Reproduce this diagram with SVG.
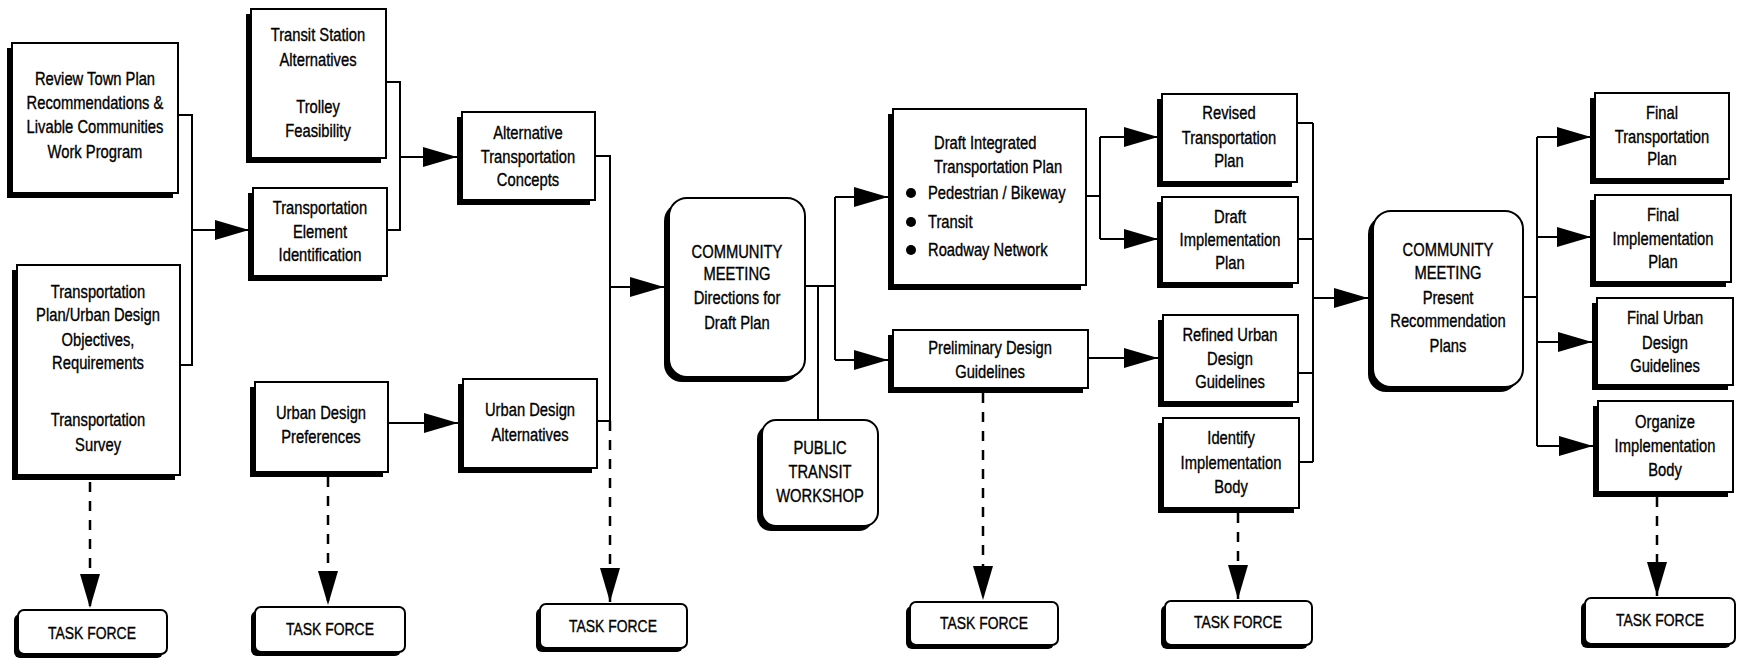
<svg xmlns="http://www.w3.org/2000/svg" width="1741" height="660" viewBox="0 0 1741 660">
<style>
  .sh{fill:#000;}
  .bx{fill:#fff;stroke:#000;stroke-width:2;}
  text{font-family:"Liberation Sans Narrow","Liberation Sans",Arial,sans-serif;font-size:18px;fill:#000;stroke:#000;stroke-width:0.35;text-anchor:middle;transform-box:fill-box;transform-origin:center;transform:scaleX(0.82);}
  .tf{font-size:17px;}
  .lft{text-anchor:start;transform-origin:left center;}
  .ln{fill:none;stroke:#000;stroke-width:2;}
  .ar{fill:none;stroke:#000;stroke-width:2;marker-end:url(#ah);}
  .da{fill:none;stroke:#000;stroke-width:2.5;stroke-dasharray:10,9;marker-end:url(#ah);}
</style>
<defs>
  <marker id="ah" markerUnits="userSpaceOnUse" markerWidth="36" markerHeight="22" refX="34" refY="10" orient="auto" overflow="visible">
    <path d="M0,0 L34,10 L0,20 Z" fill="#000" stroke="none"/>
  </marker>
</defs>
<rect width="1741" height="660" fill="#fff"/>

<g id="connectors">
  <path class="ln" d="M178,115 H192 V365 H180"/>
  <path class="ar" d="M192,230 H249"/>
  <path class="ln" d="M386,82 H400 V230 H387"/>
  <path class="ar" d="M400,157 H457"/>
  <path class="ar" d="M388,423 H458"/>
  <path class="ln" d="M595,156 H610 V421 H597"/>
  <path class="ar" d="M610,287 H664"/>
  <path class="ln" d="M805,286 H835 M835,197 V360 M818,286 V420"/>
  <path class="ar" d="M835,197 H888"/>
  <path class="ar" d="M835,360 H888"/>
  <path class="ln" d="M1086,196 H1100 M1100,137 V239"/>
  <path class="ar" d="M1100,137 H1158"/>
  <path class="ar" d="M1100,239 H1158"/>
  <path class="ar" d="M1088,358 H1158"/>
  <path class="ln" d="M1297,123 H1313 M1298,239 H1313 M1298,373 H1313 M1299,462 H1313 M1313,123 V462"/>
  <path class="ar" d="M1313,298 H1368"/>
  <path class="ln" d="M1523,297 H1537 M1537,137 V446"/>
  <path class="ar" d="M1537,137 H1591"/>
  <path class="ar" d="M1537,237 H1591"/>
  <path class="ar" d="M1537,342 H1592"/>
  <path class="ar" d="M1537,446 H1593"/>
  <path class="da" d="M90,482 V608"/>
  <path class="da" d="M328,477 V605"/>
  <path class="da" d="M610,421 V602"/>
  <path class="da" d="M983,393 V600"/>
  <path class="da" d="M1238,513 V599"/>
  <path class="da" d="M1657,497 V596"/>
</g>

<g id="n_review">
  <rect class="sh" x="7" y="48" width="166" height="150"/>
  <rect class="bx" x="12" y="43" width="166" height="150"/>
  <text x="95" y="85">Review Town Plan</text>
  <text x="95" y="109">Recommendations &amp;</text>
  <text x="95" y="133">Livable Communities</text>
  <text x="95" y="158">Work Program</text>
</g>
<g id="n_tpud">
  <rect class="sh" x="12" y="270" width="163" height="210"/>
  <rect class="bx" x="17" y="265" width="163" height="210"/>
  <text x="98" y="298">Transportation</text>
  <text x="98" y="321">Plan/Urban Design</text>
  <text x="98" y="346">Objectives,</text>
  <text x="98" y="369">Requirements</text>
  <text x="98" y="426">Transportation</text>
  <text x="98" y="451">Survey</text>
</g>
<g id="n_transit">
  <rect class="sh" x="246" y="14" width="135" height="149"/>
  <rect class="bx" x="251" y="9" width="135" height="149"/>
  <text x="318" y="41">Transit Station</text>
  <text x="318" y="66">Alternatives</text>
  <text x="318" y="113">Trolley</text>
  <text x="318" y="137">Feasibility</text>
</g>
<g id="n_tei">
  <rect class="sh" x="248" y="193" width="134" height="88"/>
  <rect class="bx" x="253" y="188" width="134" height="88"/>
  <text x="320" y="214">Transportation</text>
  <text x="320" y="238">Element</text>
  <text x="320" y="261">Identification</text>
</g>
<g id="n_udp">
  <rect class="sh" x="250" y="387" width="133" height="90"/>
  <rect class="bx" x="255" y="382" width="133" height="90"/>
  <text x="321" y="419">Urban Design</text>
  <text x="321" y="443">Preferences</text>
</g>
<g id="n_atc">
  <rect class="sh" x="457" y="117" width="133" height="88"/>
  <rect class="bx" x="462" y="112" width="133" height="88"/>
  <text x="528" y="139">Alternative</text>
  <text x="528" y="163">Transportation</text>
  <text x="528" y="186">Concepts</text>
</g>
<g id="n_uda">
  <rect class="sh" x="458" y="384" width="134" height="89"/>
  <rect class="bx" x="463" y="379" width="134" height="89"/>
  <text x="530" y="416">Urban Design</text>
  <text x="530" y="441">Alternatives</text>
</g>
<g id="n_cm1">
  <rect class="sh" x="664" y="203" width="136" height="179" rx="18"/>
  <rect class="bx" x="669" y="198" width="136" height="179" rx="18"/>
  <text x="737" y="258">COMMUNITY</text>
  <text x="737" y="280">MEETING</text>
  <text x="737" y="304">Directions for</text>
  <text x="737" y="329">Draft Plan</text>
</g>
<g id="n_ptw">
  <rect class="sh" x="757" y="425" width="116" height="106" rx="14"/>
  <rect class="bx" x="762" y="420" width="116" height="106" rx="14"/>
  <text x="820" y="454">PUBLIC</text>
  <text x="820" y="478">TRANSIT</text>
  <text x="820" y="502">WORKSHOP</text>
</g>
<g id="n_dit">
  <rect class="sh" x="888" y="114" width="193" height="176"/>
  <rect class="bx" x="893" y="109" width="193" height="176"/>
  <text class="lft" x="934" y="149">Draft Integrated</text>
  <text class="lft" x="934" y="173">Transportation Plan</text>
  <circle cx="911" cy="193" r="5"/>
  <circle cx="911" cy="222" r="5"/>
  <circle cx="911" cy="250" r="5"/>
  <text class="lft" x="928" y="199">Pedestrian / Bikeway</text>
  <text class="lft" x="928" y="228">Transit</text>
  <text class="lft" x="928" y="256">Roadway Network</text>
</g>
<g id="n_pdg">
  <rect class="sh" x="888" y="335" width="195" height="58"/>
  <rect class="bx" x="893" y="330" width="195" height="58"/>
  <text x="990" y="354">Preliminary Design</text>
  <text x="990" y="378">Guidelines</text>
</g>
<g id="n_rtp">
  <rect class="sh" x="1157" y="99" width="135" height="88"/>
  <rect class="bx" x="1162" y="94" width="135" height="88"/>
  <text x="1229" y="119">Revised</text>
  <text x="1229" y="144">Transportation</text>
  <text x="1229" y="167">Plan</text>
</g>
<g id="n_dip">
  <rect class="sh" x="1157" y="202" width="136" height="86"/>
  <rect class="bx" x="1162" y="197" width="136" height="86"/>
  <text x="1230" y="223">Draft</text>
  <text x="1230" y="246">Implementation</text>
  <text x="1230" y="269">Plan</text>
</g>
<g id="n_rudg">
  <rect class="sh" x="1158" y="320" width="135" height="87"/>
  <rect class="bx" x="1163" y="315" width="135" height="87"/>
  <text x="1230" y="341">Refined Urban</text>
  <text x="1230" y="365">Design</text>
  <text x="1230" y="388">Guidelines</text>
</g>
<g id="n_iib">
  <rect class="sh" x="1158" y="423" width="136" height="90"/>
  <rect class="bx" x="1163" y="418" width="136" height="90"/>
  <text x="1231" y="444">Identify</text>
  <text x="1231" y="469">Implementation</text>
  <text x="1231" y="493">Body</text>
</g>
<g id="n_cm2">
  <rect class="sh" x="1368" y="216" width="150" height="176" rx="18"/>
  <rect class="bx" x="1373" y="211" width="150" height="176" rx="18"/>
  <text x="1448" y="256">COMMUNITY</text>
  <text x="1448" y="279">MEETING</text>
  <text x="1448" y="304">Present</text>
  <text x="1448" y="327">Recommendation</text>
  <text x="1448" y="352">Plans</text>
</g>
<g id="n_ftp">
  <rect class="sh" x="1590" y="98" width="134" height="86"/>
  <rect class="bx" x="1595" y="93" width="134" height="86"/>
  <text x="1662" y="119">Final</text>
  <text x="1662" y="143">Transportation</text>
  <text x="1662" y="165">Plan</text>
</g>
<g id="n_fip">
  <rect class="sh" x="1590" y="200" width="136" height="87"/>
  <rect class="bx" x="1595" y="195" width="136" height="87"/>
  <text x="1663" y="221">Final</text>
  <text x="1663" y="245">Implementation</text>
  <text x="1663" y="268">Plan</text>
</g>
<g id="n_fudg">
  <rect class="sh" x="1592" y="303" width="136" height="87"/>
  <rect class="bx" x="1597" y="298" width="136" height="87"/>
  <text x="1665" y="324">Final Urban</text>
  <text x="1665" y="349">Design</text>
  <text x="1665" y="372">Guidelines</text>
</g>
<g id="n_oib">
  <rect class="sh" x="1593" y="406" width="135" height="91"/>
  <rect class="bx" x="1598" y="401" width="135" height="91"/>
  <text x="1665" y="428">Organize</text>
  <text x="1665" y="452">Implementation</text>
  <text x="1665" y="476">Body</text>
</g>
<g id="tf1">
  <rect class="sh" x="14" y="614" width="149" height="44" rx="6"/>
  <rect class="bx" x="18" y="610" width="149" height="44" rx="6"/>
  <text class="tf" x="92" y="639">TASK FORCE</text>
</g>
<g id="tf2">
  <rect class="sh" x="251" y="611" width="150" height="45" rx="6"/>
  <rect class="bx" x="255" y="607" width="150" height="45" rx="6"/>
  <text class="tf" x="330" y="635">TASK FORCE</text>
</g>
<g id="tf3">
  <rect class="sh" x="536" y="608" width="147" height="44" rx="6"/>
  <rect class="bx" x="540" y="604" width="147" height="44" rx="6"/>
  <text class="tf" x="613" y="632">TASK FORCE</text>
</g>
<g id="tf4">
  <rect class="sh" x="906" y="606" width="148" height="43" rx="6"/>
  <rect class="bx" x="910" y="602" width="148" height="43" rx="6"/>
  <text class="tf" x="984" y="629">TASK FORCE</text>
</g>
<g id="tf5">
  <rect class="sh" x="1161" y="605" width="147" height="44" rx="6"/>
  <rect class="bx" x="1165" y="601" width="147" height="44" rx="6"/>
  <text class="tf" x="1238" y="628">TASK FORCE</text>
</g>
<g id="tf6">
  <rect class="sh" x="1581" y="602" width="150" height="46" rx="6"/>
  <rect class="bx" x="1585" y="598" width="150" height="46" rx="6"/>
  <text class="tf" x="1660" y="626">TASK FORCE</text>
</g>
</svg>
